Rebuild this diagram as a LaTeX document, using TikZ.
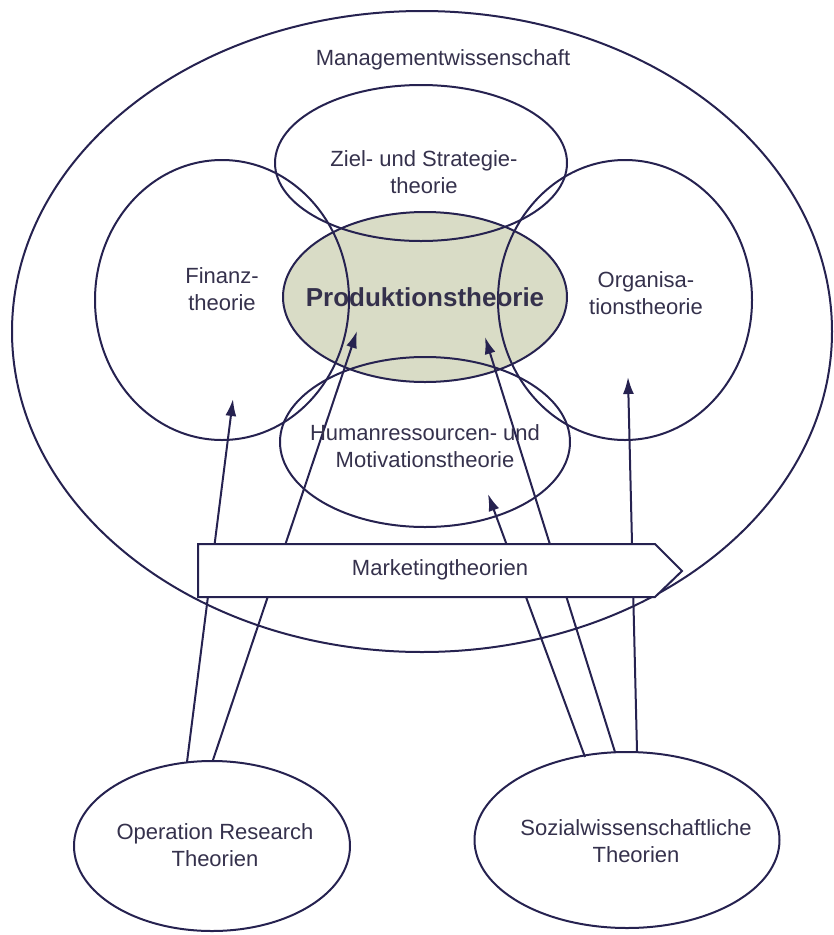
\documentclass[tikz,border=0pt]{standalone}
\usepackage{fontspec}
\setmainfont{Liberation Sans}
\usetikzlibrary{shapes.geometric,arrows.meta}
\definecolor{ln}{HTML}{262250}
\definecolor{tx}{HTML}{35314C}
\definecolor{gr}{HTML}{D9DCC6}
\begin{document}
\begin{tikzpicture}[x=1pt,y=-1pt,
  ell/.style={ellipse,draw=ln,line width=2pt,inner sep=0pt,outer sep=0pt},
  lbl/.style={text=tx,align=center,font=\fontsize{22}{27}\selectfont,inner sep=0pt},
  conn/.style={draw=ln,line width=2pt,-{Latex[length=17pt,width=11pt]}},
  mkt/.style={draw=ln,line width=2pt,fill=white}]
\useasboundingbox (0,0) rectangle (834,935);
% outer ellipse
\node[ell,minimum width=820pt,minimum height=641pt] (mw) at (422,331.5) {};
% Produktion (filled, underneath)
\node[ell,fill=gr,minimum width=284pt,minimum height=170pt] (prod) at (425,297) {};
% other ellipses
\node[ell,minimum width=292pt,minimum height=156pt] (ziel) at (421,163) {};
\node[ell,minimum width=254pt,minimum height=280pt] (fin) at (222,300) {};
\node[ell,minimum width=254pt,minimum height=280pt] (org) at (625,300) {};
\node[ell,minimum width=290pt,minimum height=170pt] (hum) at (425,442) {};
% bottom ellipses
\node[ell,minimum width=276pt,minimum height=170pt] (or) at (212,846) {};
\node[ell,minimum width=305pt,minimum height=176pt] (soz) at (627,840) {};
% connector end points
\coordinate (s1) at (187,762);
\coordinate (s2) at (213,760);
\coordinate (s3) at (585,757);
\coordinate (s4) at (615,752);
\coordinate (s5) at (637,751);
\coordinate (e1) at (233,399);
\coordinate (e2) at (357,331);
\coordinate (e3) at (488,494);
\coordinate (e4) at (485,337);
\coordinate (e5) at (628,377);
\draw[conn] (s1) -- (e1);
\draw[conn] (s2) -- (e2);
\draw[conn] (s3) -- (e3);
\draw[conn] (s4) -- (e4);
\draw[conn] (s5) -- (e5);
% marketing arrow
\coordinate (m1) at (198,544);
\coordinate (m2) at (655,544);
\coordinate (m3) at (682,571);
\coordinate (m4) at (655,597);
\coordinate (m5) at (198,597);
\draw[mkt] (m1) -- (m2) -- (m3) -- (m4) -- (m5) -- cycle;
% texts
\node[lbl] (tmw) at (443,60) {Managementwissenschaft};
\node[lbl] (tziel) at (424,172) {Ziel- und Strategie-\\theorie};
\node[lbl] (tfin) at (222,289) {Finanz-\\theorie};
\node[lbl] (torg) at (646,293) {Organisa-\\tionstheorie};
\node[text=tx,inner sep=0pt,font=\fontsize{26}{30}\selectfont\bfseries] (tprod) at (425,297) {Produktionstheorie};
\node[lbl] (thum) at (425,446) {Humanressourcen- und\\Motivationstheorie};
\node[lbl] (tmkt) at (440,570) {Marketingtheorien};
\node[lbl] (tor) at (215,845) {Operation Research\\Theorien};
\node[lbl] (tsoz) at (636,841) {Sozialwissenschaftliche\\Theorien};
\end{tikzpicture}
\end{document}
